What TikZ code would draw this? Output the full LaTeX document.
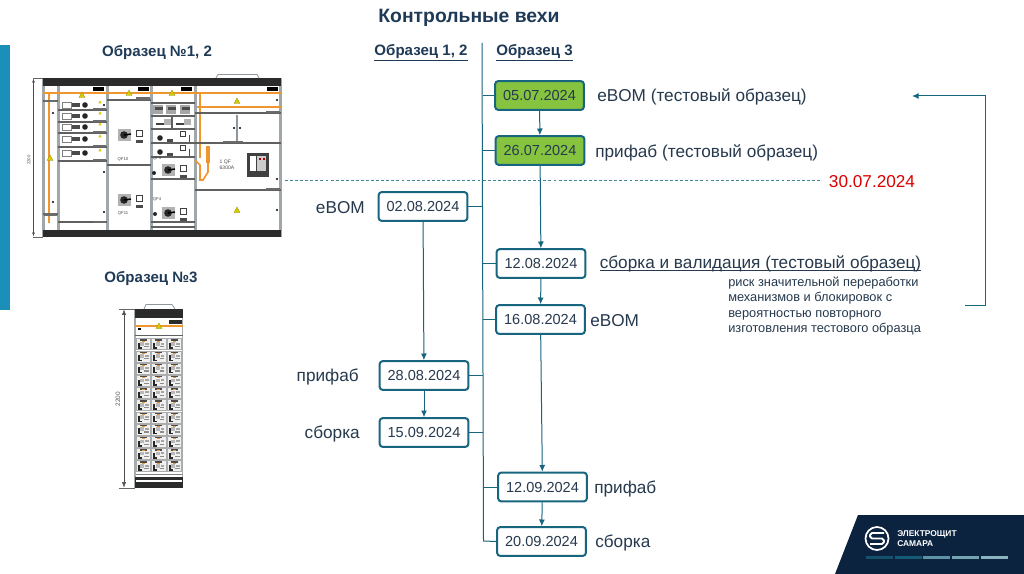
\documentclass[tikz,border=0pt]{standalone}
\usepackage{fontspec}
\setmainfont{Liberation Sans}
\usetikzlibrary{arrows.meta}
\definecolor{teal1}{HTML}{17657F}
\definecolor{navy}{HTML}{1F3A56}
\definecolor{txt}{HTML}{26394D}
\definecolor{grn}{HTML}{86C440}
\definecolor{bar}{HTML}{1B8FB8}
\definecolor{dark}{HTML}{0C2340}
\definecolor{org}{HTML}{F0962E}
\definecolor{band}{HTML}{2B2B2B}
\definecolor{frameg}{HTML}{8E979C}
\tikzset{
 datebox/.style={draw=teal1,line width=1.5pt,rounded corners=2.2pt,minimum width=66.5pt,minimum height=21.5pt,inner sep=0pt,font=\fontsize{10.9}{13}\selectfont,text=txt,fill=white},
 donebox/.style={datebox,fill=grn},
 lbl/.style={font=\fontsize{12.9}{15}\selectfont,text=txt,inner sep=0pt},
 head/.style={font=\fontsize{11.3}{13}\selectfont\bfseries,text=navy,inner sep=0pt},
 conn/.style={draw=teal1,line width=0.75pt},
 arr/.style={conn,-{Latex[length=5pt,width=4.5pt]}},
 tiny/.style={font=\fontsize{3.2}{3.7}\selectfont,text=black!70,inner sep=0pt},
 orgl/.style={draw=org,line width=1.5pt},
 shelf/.style={draw=gray!75!black,line width=.8pt},
}
\newcommand{\wtri}[2]{\fill[yellow!65!olive,draw=olive,line width=.2pt] (#1-3,#2+2.5)--(#1+3,#2+2.5)--(#1,#2-3)--cycle;}
\newcommand{\smalltri}[2]{\fill[yellow!65!olive] (#1-1.7,#2+1.5)--(#1+1.7,#2+1.5)--(#1,#2-1.7)--cycle;}
\newcommand{\swt}[2]{\fill[gray!60] (#1-6,#2-6) rectangle +(13,12);
 \fill[black!85] (#1,#2) circle (3.8);
 \draw[black,line width=1.1pt] (#1,#2)--(#1+7,#2-1);
 \fill[white,draw=black!75,line width=.6pt] (#1+12,#2-4.5) rectangle +(6,6);
 \fill[band!85] (#1+12,#2+5) rectangle +(7,3);}
\newcommand{\swsm}[2]{\fill[black!85] (#1,#2) circle (2.8);
 \fill[band!85] (#1+7,#2+1.5) rectangle +(6,2.5);
 \fill[white,draw=black!75,line width=.5pt] (#1+20,#2-7) rectangle +(5.5,5.5);
 \fill[black!70] (#1+29,#2-3) rectangle +(1.2,7);}
\newcommand{\modsw}[2]{\fill[gray!12,draw=gray!65,line width=.2pt] (#1,#2) rectangle +(14.2,11);
 \fill[gray!55] (#1+4,#2+3.5) rectangle +(4,3.5);
 \fill[band!85] (#1+3.5,#2+.9) rectangle +(7,1.3);
 \fill[org] (#1+5.5,#2+2) rectangle +(3,1);
 \fill[black!85] (#1+1.5,#2+4.5) rectangle +(2,6);
 \fill[black!85] (#1+1.5,#2+8.8) rectangle +(4,1.7);
 \fill[gray!70] (#1+9,#2+4) rectangle +(3.5,2);
 \fill[black!45] (#1+8,#2+7.5) rectangle +(4.5,1.2);}
\begin{document}
\begin{tikzpicture}[x=0.75pt,y=-0.75pt]
\useasboundingbox (0,0) rectangle (1024,574);
\fill[white] (0,0) rectangle (1024,574);
\fill[bar] (0,45) rectangle (10,310);
\node[font=\fontsize{14.5}{17}\selectfont\bfseries,text=navy,inner sep=0pt] (title) at (469,18) {Контрольные вехи};
\node[head] (h12) at (157,52.5) {Образец №1, 2};
\node[head] (h3) at (151,278.5) {Образец №3};
% ---- cabinet 1
\fill[white] (43,78) rectangle (281,237);
\foreach \x in {43.5,58,107,151,195,280}{\fill[frameg!85] (\x-1.5,78) rectangle (\x+1.5,237);}
\fill[band] (43,78) rectangle (281,86);
\fill[band] (43,230) rectangle (281,237);
\foreach \x in {93,138,181,267}{\fill[black] (\x,87) rectangle +(11,4);}
\draw[orgl] (43,93)--(281,93);
\draw[orgl] (49,93)--(49,223);
\draw[orgl] (197,107)--(281,107);
\draw[orgl] (200,93)--(200,158);
\draw[orgl,line width=1.2pt] (195,160)--(200,165)--(200,180)--(203,180)--(208,172)--(208,147);
\fill[org] (205.5,146) rectangle (210,163);
\foreach \a/\b/\c in {43/58/101,43/58/214,58/107/110,58/107/122,58/107/133,58/107/147,58/107/161,58/107/222,107/151/100,107/151/165,151/195/103,151/195/116,151/195/129,151/195/143,151/195/157,151/195/179,151/195/222,151/195/227,195/281/113,195/281/143,195/281/190}{\draw[shelf] (\a,\c)--(\b,\c);}
\draw[frameg,line width=1.6pt] (237,115)--(237,142);
\fill[black] (234,128) circle (1.1);\fill[black] (240,128) circle (1.1);
\fill[band!70] (44,100) rectangle (57,102.5);
\fill[band!70] (44,213) rectangle (57,215.5);
\foreach \y in {108.5,120.5,131.5,145.5,159.5,220.5}{\fill[band!70] (93,\y) rectangle (106,\y+2);}
\fill[band!70] (136,97) rectangle (150,100);
\fill[band!70] (223,141) rectangle (243,143);
\fill[band!70] (266,111) rectangle (280,113.5);
\fill[band!70] (266,188) rectangle (280,190);
\wtri{82}{95}\wtri{129}{93}\wtri{172}{93}\wtri{237}{101}\wtri{237}{210}\wtri{50}{158}
\foreach \y in {105,116,127,139,153}{
 \fill[white,draw=gray,line width=.25pt] (62,\y-3) rectangle +(9,6);
 \fill[band!85] (71.5,\y-1.5) rectangle +(8,3.5);
 \fill[black!85] (85,\y) circle (2.8);
 \smalltri{100}{\y-3}
}
\foreach \x/\y in {53/113,53/202,104/105,104/172,104/212,277/100,277/179,277/210}{\fill[black] (\x,\y) circle (1.2);}
\swt{124}{135}
\swt{124}{200}
\swt{168}{170}
\swt{168}{213}
\swsm{160}{138}
\swsm{160}{152}
\fill[black!85] (154,173) circle (2);
\fill[black!85] (155,214) circle (2);
\foreach \x in {153,166,180}{\fill[gray!70] (\x,105) rectangle +(10,9);\fill[band!85] (\x+2,107) rectangle +(8,3);}
\foreach \x in {156,176}{\fill[black!75] (\x,123) rectangle +(8,2.5);\fill[gray!60] (\x+8,119) rectangle +(7,6);}
\draw[shelf] (172,116)--(172,129);
% breaker
\fill[band!90] (247,153) rectangle (269,177);
\fill[white] (250,156) rectangle (256,171);
\fill[gray!40] (257,156) rectangle (266,171);
\fill[red!70!black] (259,158) rectangle +(2,2);\fill[red!70!black] (263,158) rectangle +(2,2);
% dimension
\draw[black!60,line width=.3pt] (33,78)--(43,78) (33,237)--(43,237);
\draw[black!70,line width=.3pt,{Latex[length=3pt,width=2pt]}-{Latex[length=3pt,width=2pt]}] (33.5,78.5)--(33.5,236.5);
\node[tiny,rotate=90] (dim1) at (29,160) {2200};
\node[tiny] (q10) at (123,159) {QF10};
\node[tiny] (q11) at (123,213) {QF11};
\node[tiny,align=left,font=\fontsize{3.8}{4.6}\selectfont] (q1) at (227,165) {1 QF\\6300A};
\node[tiny] (q2) at (157,158.5) {QF3};
\node[tiny] (q3) at (157,199) {QF4};
% ---- handle
\draw[frameg,line width=.6pt] (216,78)--(218,74.5)--(257,74.5)--(259,78);
% ---- cabinet 2
\draw[frameg,line width=.6pt] (144,309)--(146,304.5)--(172,304.5)--(175,309);
\fill[white] (135,309) rectangle (183,488);
\foreach \x in {135,182.5}{\fill[frameg!80] (\x-.8,309) rectangle (\x+.8,488);}
\fill[band] (135,309) rectangle (183,318);
\fill[band] (135,477) rectangle (183,488);
\fill[white] (136,480) rectangle (182,481.5);
\draw[gray,line width=.4pt] (136,474.5)--(182,474.5);
\fill[band] (169,320) rectangle (182,323.5);
\draw[org,line width=1.3pt] (135,326)--(183,326);
\wtri{159}{326}
\fill[black] (138,327.5) rectangle +(2.5,2.5);
\draw[shelf,line width=.5pt] (135,335)--(183,335);
\foreach \r in {0,...,10}{\foreach \c in {0,1,2}{
  \pgfmathsetmacro{\mx}{136+\c*15.6}
  \pgfmathsetmacro{\my}{338.5+\r*12.2}
  \modsw{\mx}{\my}
}}
\draw[black!60,line width=.3pt] (119,309)--(135,309) (119,488)--(135,488);
\draw[black!70,line width=.3pt,{Latex[length=4pt,width=3pt]}-{Latex[length=4pt,width=3pt]}] (124,309.5)--(124,487.5);
\node[font=\fontsize{4.8}{5}\selectfont,text=black!65,rotate=90,inner sep=0pt] (dim2) at (118,399) {2200};
% ---- timeline
\node[head] (c1) at (421,52.5) {\underline{Образец 1, 2}};
\node[head] (c2) at (534.5,52.5) {\underline{Образец 3}};
\coordinate (tt) at (482,43);
\coordinate (tb) at (483.5,541);
\draw[conn] (tt)--(tb);
\coordinate (dl) at (285,180.5);
\coordinate (dr) at (820,180.5);
\draw[teal1!80,line width=.4pt,dash pattern=on 2.2pt off 1.6pt] (dl)--(dr);
\node[donebox] (a) at (539.5,95.5) {05.07.2024};
\node[donebox] (b) at (540,150.5) {26.07.2024};
\node[datebox] (c) at (423,206.5) {02.08.2024};
\node[datebox] (d) at (541,263.5) {12.08.2024};
\node[datebox] (e) at (540.5,319.5) {16.08.2024};
\node[datebox] (f) at (424,375.5) {28.08.2024};
\node[datebox] (g) at (424,432.5) {15.09.2024};
\node[datebox] (h) at (542.5,487) {12.09.2024};
\node[datebox] (i) at (541.5,541.5) {20.09.2024};
\foreach \n/\y in {a/95.5,b/150.5,d/263.5,e/319.5,h/487}{\draw[conn] (482.6,\y)--(\n.west);}
\draw[conn] (tb)--(i.west);
\foreach \n/\y in {c/206.5,f/375.5,g/432.5}{\draw[conn] (\n.east)--(483,\y);}
\draw[arr] (a)--(b);
\draw[arr] (b)--(d);
\draw[arr] (d)--(e);
\draw[arr] (e)--(h);
\draw[arr] (h)--(i);
\draw[arr] (c)--(f);
\draw[arr] (f)--(g);
% labels
\node[lbl,anchor=west] (la) at (597,97) {eBOM (тестовый образец)};
\node[lbl,anchor=west] (lb) at (595,153) {прифаб (тестовый образец)};
\node[lbl,anchor=east] (lc) at (365,207.5) {eBOM};
\node[lbl,anchor=base west] (ld) at (599.5,268.5) {\underline{\smash{сборка и валидация (тестовый образец)}}};
\node[lbl,anchor=west] (le) at (590,321) {eBOM};
\node[lbl,anchor=east] (lf) at (359,376.5) {прифаб};
\node[lbl,anchor=east] (lg) at (360,433.5) {сборка};
\node[lbl,anchor=west] (lh) at (594,488.5) {прифаб};
\node[lbl,anchor=west] (li) at (595,542.5) {сборка};
\node[font=\fontsize{12.9}{15}\selectfont,text=red!85!black,inner sep=0pt] (red) at (872,182) {30.07.2024};
\node[font=\fontsize{9.6}{11.4}\selectfont,text=txt,inner sep=0pt,align=left,anchor=north west] (risk) at (728,277) {риск значительной переработки\\механизмов и блокировок с\\вероятностью повторного\\изготовления тестового образца};
\coordinate (rs) at (965,305);
\coordinate (rc1) at (985,305);
\coordinate (rc2) at (985,96);
\coordinate (re) at (912,96);
\draw[arr] (rs)--(rc1)--(rc2)--(re);
% logo
\fill[dark] (858,515)--(1024,515)--(1024,574)--(835,574)--cycle;
\draw[white,line width=1.3pt] (877,538.5) circle (11.5);
\draw[white,line width=1.4pt,line join=round] (884,533)--(872,533)--(870,535)--(870,536.5)--(872,538.5)--(882,538.5)--(884,540.5)--(884,542)--(882,544)--(870,544);
\node[font=\fontsize{6.3}{7.2}\selectfont\bfseries,text=white,inner sep=0pt,align=left,anchor=west] (logo) at (897,538.5) {ЭЛЕКТРОЩИТ\\САМАРА};
\fill[teal1!70!dark] (866,556) rectangle +(27,3);
\fill[teal1!85!dark] (895,556) rectangle +(27,3);
\fill[teal1!70!white] (923,556) rectangle +(27,3);
\fill[teal1!60!white] (952,556) rectangle +(27,3);
\fill[teal1!50!white] (981,556) rectangle +(27,3);
\end{tikzpicture}
\end{document}
